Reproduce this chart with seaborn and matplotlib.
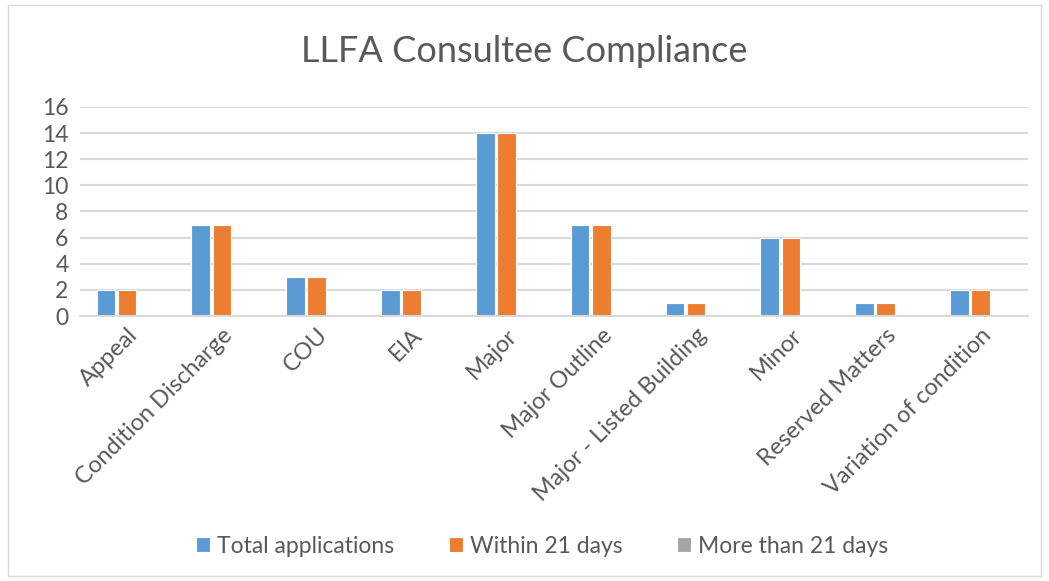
import pandas as pd
import matplotlib.pyplot as plt
import seaborn as sns
from matplotlib.patches import Rectangle

categories = ["Appeal", "Condition Discharge", "COU", "EIA", "Major",
              "Major Outline", "Major - Listed Building", "Minor",
              "Reserved Matters", "Variation of condition"]
total_apps = [2, 7, 3, 2, 14, 7, 1, 6, 1, 2]
within_21 = [2, 7, 3, 2, 14, 7, 1, 6, 1, 2]
more_21 = [0, 0, 0, 0, 0, 0, 0, 0, 0, 0]
series = ["Total applications", "Within 21 days", "More than 21 days"]
colors = ["#5B9BD5", "#ED7D31", "#A5A5A5"]

df = pd.DataFrame({
    "category": categories * 3,
    "series": [series[0]] * 10 + [series[1]] * 10 + [series[2]] * 10,
    "value": total_apps + within_21 + more_21,
})

sns.set_style("white")
plt.rcParams["font.family"] = ["Lato", "DejaVu Sans"]

fig = plt.figure(figsize=(10.49, 5.81), dpi=100)
ax = fig.add_axes([0.076, 0.456, 0.904, 0.36])

sns.barplot(data=df, x="category", y="value", hue="series", order=categories,
            hue_order=series, palette=colors, saturation=1, width=0.67,
            gap=0.12, edgecolor="white", linewidth=0.8, ax=ax)

ax.set_ylim(0, 16)
ax.set_yticks(range(0, 17, 2))
ax.set_xlim(-0.5, len(categories) - 0.5)
ax.yaxis.grid(True, color="#D9D9D9", linewidth=1.5)
ax.set_axisbelow(True)
for s in ["top", "right", "left"]:
    ax.spines[s].set_visible(False)
ax.spines["bottom"].set_color("#D9D9D9")
ax.spines["bottom"].set_linewidth(1.5)
ax.tick_params(axis="both", length=0, colors="#595959", labelsize=16.5)
ax.tick_params(axis="y", pad=8)
ax.tick_params(axis="x", pad=6)
ax.set_xticks(range(len(categories)))
ax.set_xticklabels(categories, rotation=45, ha="right", rotation_mode="anchor",
                   fontsize=17)
ax.set_xlabel("")
ax.set_ylabel("")

ax.get_legend().remove()
handles, labels = ax.get_legend_handles_labels()
fig.legend(handles, labels, loc="center", bbox_to_anchor=(0.517, 0.06), ncol=3,
           frameon=False, fontsize=16.5, handlelength=0.6, handleheight=0.6,
           handletextpad=0.3, columnspacing=2.4, labelcolor="#595959")

fig.text(0.5, 0.912, "LLFA Consultee Compliance", ha="center", va="center",
         fontsize=26, color="#595959")

fig.patches.append(Rectangle((0.008, 0.008), 0.984, 0.984, transform=fig.transFigure,
                             fill=False, edgecolor="#D9D9D9", linewidth=1))

fig.savefig("out.png", dpi=100, facecolor="white")
